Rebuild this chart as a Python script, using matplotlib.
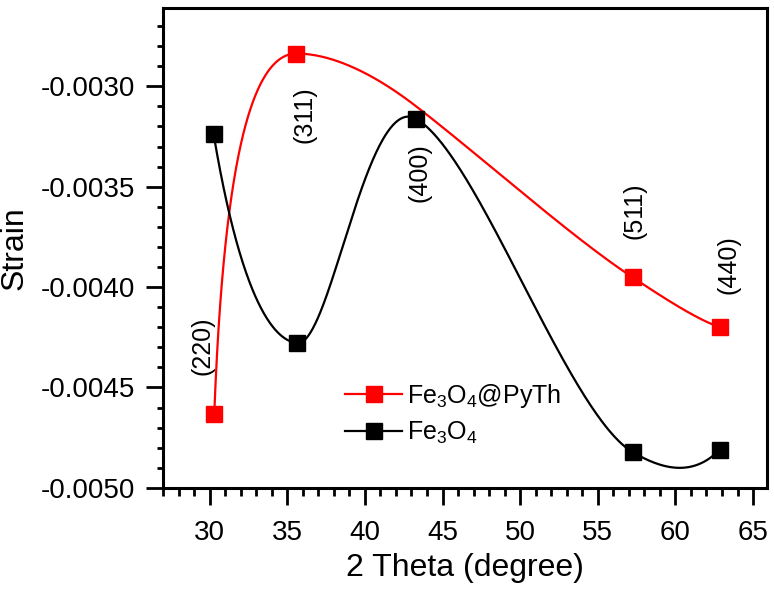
import numpy as np
import matplotlib

matplotlib.use("Agg")
import matplotlib.pyplot as plt
from matplotlib.ticker import MultipleLocator, FormatStrFormatter

theta_pyth = [30.3, 35.59, 43.27, 57.25, 62.86]
strain_pyth = [-0.004632, -0.002837, -0.003098, -0.003952, -0.004200]
# the (400) point of this series has no visible marker in the reference, only the line passes it
pyth_marked = [0, 1, 3, 4]

theta_fe = [30.26, 35.66, 43.27, 57.25, 62.86]
strain_fe = [-0.003239, -0.004279, -0.003161, -0.004822, -0.004809]

peak_labels = ["(220)", "(311)", "(400)", "(511)", "(440)"]
peak_x = [29.55, 36.13, 43.55, 57.35, 63.42]
peak_y = [-0.004294, -0.003139, -0.003428, -0.003622, -0.003886]

XLIM = (27, 65.9)
YLIM = (-0.0050, -0.00261)


def akima(t, y, ts):
    # Akima spline evaluated at ts
    m = np.diff(y) / np.diff(t)
    mm = np.concatenate([[3 * m[0] - 2 * m[1], 2 * m[0] - m[1]], m,
                         [2 * m[-1] - m[-2], 3 * m[-1] - 2 * m[-2]]])
    s = np.zeros(len(t))
    for i in range(len(t)):
        w1 = abs(mm[i + 3] - mm[i + 2])
        w2 = abs(mm[i + 1] - mm[i])
        if w1 + w2 == 0:
            s[i] = (mm[i + 1] + mm[i + 2]) / 2
        else:
            s[i] = (w1 * mm[i + 1] + w2 * mm[i + 2]) / (w1 + w2)
    idx = np.clip(np.searchsorted(t, ts) - 1, 0, len(t) - 2)
    h = t[idx + 1] - t[idx]
    u = (ts - t[idx]) / h
    return ((2 * u**3 - 3 * u**2 + 1) * y[idx] + (u**3 - 2 * u**2 + u) * h * s[idx]
            + (-2 * u**3 + 3 * u**2) * y[idx + 1] + (u**3 - u**2) * h * s[idx + 1])


def smooth_line(x, y, n=600):
    # smooth connecting line only (centripetal parametric spline in axes-box units)
    u = (np.asarray(x, float) - XLIM[0]) / (XLIM[1] - XLIM[0]) * 604
    v = (np.asarray(y, float) - YLIM[0]) / (YLIM[1] - YLIM[0]) * 480
    t = np.concatenate([[0], np.cumsum(np.hypot(np.diff(u), np.diff(v)) ** 0.5)])
    ts = np.linspace(0, t[-1], n)
    us = akima(t, u, ts)
    vs = akima(t, v, ts)
    return (XLIM[0] + us / 604 * (XLIM[1] - XLIM[0]),
            YLIM[0] + vs / 480 * (YLIM[1] - YLIM[0]))


plt.rcParams["font.family"] = ["Liberation Sans", "DejaVu Sans"]
plt.rcParams["mathtext.fontset"] = "custom"
plt.rcParams["mathtext.rm"] = "Liberation Sans"

fig = plt.figure(figsize=(7.74, 5.95), dpi=100)
ax = fig.add_axes([0.2106, 0.180, 0.7804, 0.8066])

red = "#ff0000"
xs, ys = smooth_line(theta_pyth, strain_pyth)
ax.plot(xs, ys, color=red, lw=1.6, zorder=2)
ax.plot(theta_pyth, strain_pyth, ls="none", marker="s", ms=12, color=red,
        markevery=pyth_marked, zorder=3)

xs, ys = smooth_line(theta_fe, strain_fe)
ax.plot(xs, ys, color="black", lw=1.6, zorder=2)
ax.plot(theta_fe, strain_fe, ls="none", marker="s", ms=12, color="black", zorder=4)

for lab, px, py in zip(peak_labels, peak_x, peak_y):
    ax.text(px, py, lab, rotation=90, ha="center", va="center", fontsize=18)

# legend handles: line with a square in the middle
h1, = ax.plot([], [], color=red, lw=1.6, marker="s", ms=12)
h2, = ax.plot([], [], color="black", lw=1.6, marker="s", ms=12)
ax.legend([h1, h2], [r"Fe$_3$O$_4$@PyTh", r"Fe$_3$O$_4$"], loc="upper left",
          bbox_to_anchor=(0.272, 0.257), frameon=False, fontsize=18, numpoints=1,
          handlelength=2.3, handletextpad=0.2, labelspacing=0.4, borderpad=0.2)

ax.set_xlim(*XLIM)
ax.set_ylim(*YLIM)
ax.xaxis.set_major_locator(MultipleLocator(5))
ax.xaxis.set_minor_locator(MultipleLocator(1))
ax.yaxis.set_major_locator(MultipleLocator(0.0005))
ax.yaxis.set_minor_locator(MultipleLocator(0.0001))
ax.yaxis.set_major_formatter(FormatStrFormatter("%.4f"))

for s in ax.spines.values():
    s.set_linewidth(2.2)
ax.tick_params(which="major", direction="out", length=12, width=2, labelsize=20, pad=8)
ax.tick_params(axis="x", which="major", pad=11)
ax.tick_params(axis="x", which="minor", direction="out", length=6, width=2)
ax.tick_params(axis="y", which="minor", direction="out", length=4, width=2)

ax.set_xlabel("2 Theta (degree)", fontsize=23, labelpad=5)
ax.set_ylabel("Strain", fontsize=23, labelpad=8)

fig.savefig("out.png", dpi=100)
